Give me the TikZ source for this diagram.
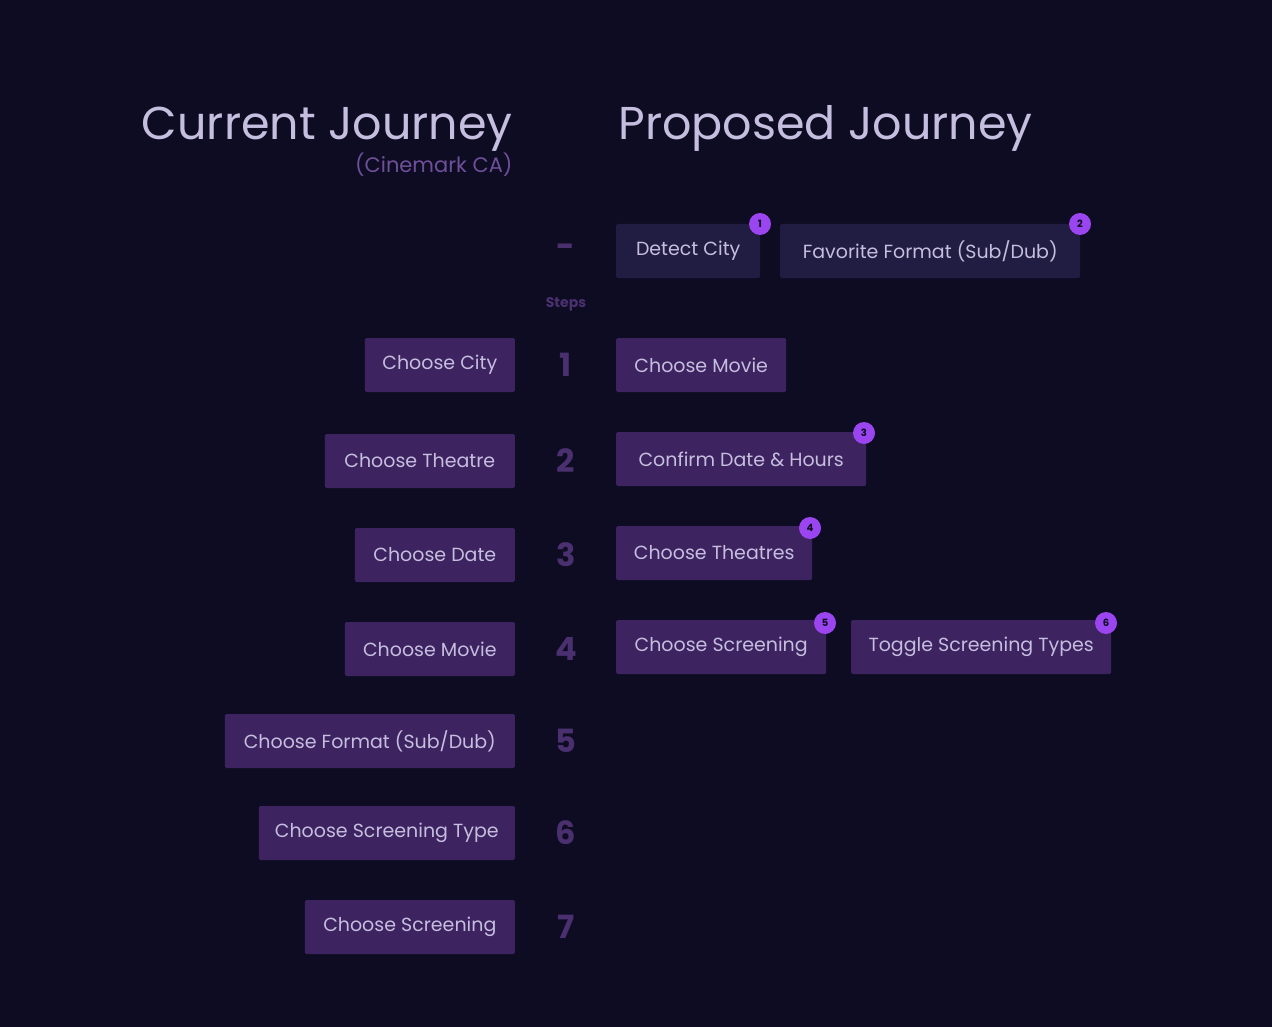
\documentclass[tikz,border=0pt]{standalone}
\usepackage{fontspec}
\setmainfont{Poppins}
\definecolor{bg}{HTML}{0D0C22}
\definecolor{boxa}{HTML}{3D2360}
\definecolor{boxb}{HTML}{211C42}
\definecolor{txt}{HTML}{C6BEDF}
\definecolor{num}{HTML}{4B3070}
\definecolor{badge}{HTML}{9B45F0}
\definecolor{sub}{HTML}{6F4F9A}
\begin{document}
\begin{tikzpicture}[x=1pt,y=-1pt,
  stepbox/.style={fill=boxa,text=txt,minimum height=54pt,inner xsep=0pt,font=\fontsize{19}{20}\selectfont,rounded corners=1.5pt},
  prebox/.style={stepbox,fill=boxb},
  numlbl/.style={text=num,font=\fontsize{32}{32}\selectfont\bfseries},
  badgec/.style={circle,fill=badge,minimum size=22pt,inner sep=0pt,text=bg,font=\fontsize{10}{10}\selectfont\bfseries},
  title/.style={text=txt,font=\fontsize{46}{46}\selectfont}]
\fill[bg] (0,0) rectangle (1272,1027);
\useasboundingbox (0,0) rectangle (1272,1027);
\node[title,anchor=base east] (t1) at (516,140) {Current Journey};
\node[text=sub,anchor=base east,font=\fontsize{21}{21}\selectfont] (t1s) at (516,173) {(Cinemark CA)};
\node[title,anchor=base west] (t2) at (615,140) {Proposed Journey};
% steps column
\node[numlbl] (n0) at (566,251) {-};
\node[text=num,font=\fontsize{14}{14}\selectfont\bfseries] (ns) at (566,304) {Steps};
\foreach \n/\y in {1/365,2/461,3/555,4/649,5/741,6/833,7/927}
  \node[numlbl] (n\n) at (566,\y) {\n};
% left
\node[stepbox,anchor=east,minimum width=150pt] (l1) at (515,365) {Choose City};
\node[stepbox,anchor=east,minimum width=190pt] (l2) at (515,461) {Choose Theatre};
\node[stepbox,anchor=east,minimum width=160pt] (l3) at (515,555) {Choose Date};
\node[stepbox,anchor=east,minimum width=170pt] (l4) at (515,649) {Choose Movie};
\node[stepbox,anchor=east,minimum width=290pt] (l5) at (515,741) {Choose Format (Sub/Dub)};
\node[stepbox,anchor=east,minimum width=256pt] (l6) at (515,833) {Choose Screening Type};
\node[stepbox,anchor=east,minimum width=210pt] (l7) at (515,927) {Choose Screening};
% right
\node[prebox,anchor=west,minimum width=144pt] (r0a) at (616,251) {Detect City};
\node[prebox,anchor=west,minimum width=300pt] (r0b) at (780,251) {Favorite Format (Sub/Dub)};
\node[stepbox,anchor=west,minimum width=170pt] (r1) at (616,365) {Choose Movie};
\node[stepbox,anchor=west,minimum width=250pt] (r2) at (616,459) {Confirm Date \& Hours};
\node[stepbox,anchor=west,minimum width=196pt] (r3) at (616,553) {Choose Theatres};
\node[stepbox,anchor=west,minimum width=210pt] (r4) at (616,647) {Choose Screening};
\node[stepbox,anchor=west,minimum width=260pt] (r5) at (851,647) {Toggle Screening Types};
% badges
\node[badgec] (b1) at (760,224) {1};
\node[badgec] (b2) at (1080,224) {2};
\node[badgec] (b3) at (864,433) {3};
\node[badgec] (b4) at (810,528) {4};
\node[badgec] (b5) at (825,623) {5};
\node[badgec] (b6) at (1106,623) {6};
\end{tikzpicture}
\end{document}
